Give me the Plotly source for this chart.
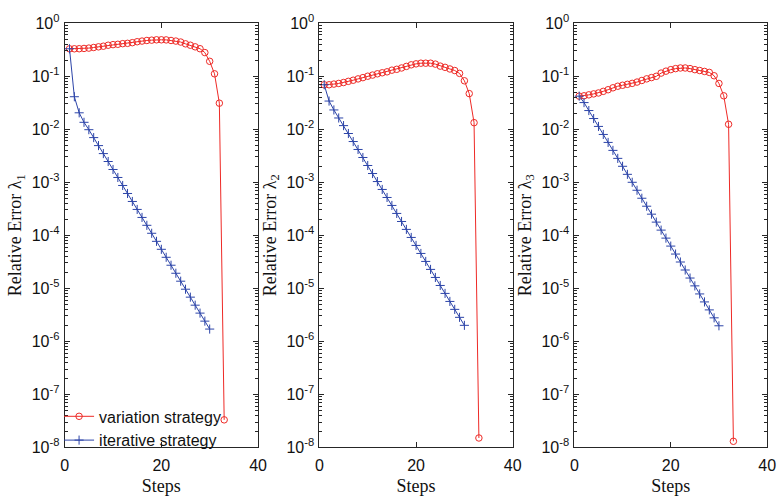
import plotly.graph_objects as go

# Iteration steps
steps_var = list(range(1, 34))
steps_it = list(range(1, 31))

# Relative error of lambda_1, lambda_2, lambda_3 for the variation strategy
var_l1 = [0.329, 0.329, 0.330, 0.334, 0.339, 0.348, 0.358, 0.368, 0.384, 0.394,
          0.400, 0.411, 0.417, 0.429, 0.447, 0.460, 0.472, 0.479, 0.486, 0.486,
          0.484, 0.472, 0.460, 0.441, 0.408, 0.384, 0.358, 0.330, 0.279, 0.191,
          0.111, 0.031, 3.3e-8]
var_l2 = [0.069, 0.069, 0.071, 0.073, 0.076, 0.080, 0.084, 0.089, 0.094, 0.100,
          0.105, 0.111, 0.116, 0.121, 0.130, 0.135, 0.143, 0.153, 0.164, 0.171,
          0.176, 0.176, 0.176, 0.169, 0.155, 0.147, 0.137, 0.128, 0.113, 0.082,
          0.047, 0.0133, 1.5e-8]
var_l3 = [0.0421, 0.0427, 0.0445, 0.0464, 0.0483, 0.0518, 0.0556, 0.0604, 0.0647, 0.0675,
          0.0703, 0.0733, 0.0775, 0.0831, 0.0891, 0.0942, 0.0996, 0.1145, 0.1245, 0.133,
          0.139, 0.143, 0.143, 0.139, 0.133, 0.128, 0.123, 0.118, 0.102, 0.073,
          0.0427, 0.0124, 1.3e-8]

# Relative error for the iterative strategy
it_l1 = [0.329, 0.041, 0.0204, 0.0135, 0.0098, 6.95e-3, 4.91e-3, 3.47e-3, 2.46e-3, 1.74e-3,
         1.23e-3, 8.69e-4, 6.14e-4, 4.34e-4, 3.07e-4, 2.17e-4, 1.54e-4, 1.09e-4, 7.68e-5, 5.43e-5,
         3.84e-5, 2.72e-5, 1.92e-5, 1.36e-5, 9.6e-6, 6.8e-6, 4.8e-6, 3.4e-6, 2.4e-6, 1.7e-6]
it_l2 = [0.069, 0.034, 0.0231, 0.0163, 0.0117, 8.30e-3, 5.86e-3, 4.15e-3, 2.93e-3, 2.07e-3,
         1.46e-3, 1.03e-3, 7.31e-4, 5.16e-4, 3.65e-4, 2.58e-4, 1.82e-4, 1.29e-4, 9.1e-5, 6.43e-5,
         4.54e-5, 3.21e-5, 2.27e-5, 1.60e-5, 1.13e-5, 8.0e-6, 5.65e-6, 4.0e-6, 2.83e-6, 2.0e-6]
it_l3 = [0.042, 0.0318, 0.0225, 0.0159, 0.0113, 7.97e-3, 5.64e-3, 3.99e-3, 2.82e-3, 2.00e-3,
         1.41e-3, 9.98e-4, 7.06e-4, 4.99e-4, 3.53e-4, 2.50e-4, 1.77e-4, 1.25e-4, 8.83e-5, 6.25e-5,
         4.42e-5, 3.13e-5, 2.21e-5, 1.56e-5, 1.11e-5, 7.82e-6, 5.53e-6, 3.91e-6, 2.77e-6, 1.96e-6]

x_ticks = [0, 20, 40]
y_tickvals = [1e0, 1e-1, 1e-2, 1e-3, 1e-4, 1e-5, 1e-6, 1e-7, 1e-8]
y_ticktext = ["10<sup>0</sup>", "10<sup>-1</sup>", "10<sup>-2</sup>", "10<sup>-3</sup>",
              "10<sup>-4</sup>", "10<sup>-5</sup>", "10<sup>-6</sup>", "10<sup>-7</sup>",
              "10<sup>-8</sup>"]
y_titles = ["Relative Error λ<sub>1</sub>", "Relative Error λ<sub>2</sub>",
            "Relative Error λ<sub>3</sub>"]

RED = "#ee2a26"
BLUE = "#2c44a8"
AXIS = "#262626"
TEXT = "#111111"
SANS = "Liberation Sans, Arial, sans-serif"
SERIF = "Liberation Serif, Times New Roman, serif"

domains = [(61.7 / 784, 258.3 / 784), (320.7 / 784, 517.3 / 784), (580.0 / 784, 776.0 / 784)]
ydom = (1 - 454.5 / 500, 1 - 12.7 / 500)

fig = go.Figure()
panels = [(var_l1, it_l1), (var_l2, it_l2), (var_l3, it_l3)]
for i, (v, it) in enumerate(panels):
    xa = "x" if i == 0 else f"x{i + 1}"
    ya = "y" if i == 0 else f"y{i + 1}"
    fig.add_trace(go.Scatter(
        x=steps_var, y=v, xaxis=xa, yaxis=ya, mode="lines+markers",
        name="variation strategy", showlegend=(i == 0),
        line=dict(color=RED, width=1),
        marker=dict(symbol="circle-open", size=6.5, color=RED, line=dict(width=1, color=RED)),
    ))
    fig.add_trace(go.Scatter(
        x=steps_it, y=it, xaxis=xa, yaxis=ya, mode="lines+markers",
        name="iterative strategy", showlegend=(i == 0),
        line=dict(color=BLUE, width=1),
        marker=dict(symbol="cross-thin-open", size=6.5, color=BLUE, line=dict(width=1, color=BLUE)),
    ))

    xkey = "xaxis" if i == 0 else f"xaxis{i + 1}"
    ykey = "yaxis" if i == 0 else f"yaxis{i + 1}"
    fig.update_layout({
        xkey: dict(
            domain=list(domains[i]), anchor=ya, range=[0, 40],
            tickvals=x_ticks, ticks="inside", ticklen=5, tickcolor=AXIS,
            showline=True, linecolor=AXIS, linewidth=1, mirror="allticks",
            showgrid=False, zeroline=False, ticklabelstandoff=3,
            tickfont=dict(family=SANS, size=16, color=TEXT),
            title=dict(text="Steps", font=dict(family=SERIF, size=18, color=TEXT), standoff=6),
        ),
        ykey: dict(
            domain=list(ydom), anchor=xa, type="log", range=[-8, 0],
            tickvals=y_tickvals, ticktext=y_ticktext,
            ticks="inside", ticklen=5, tickcolor=AXIS,
            minor=dict(ticks="inside", ticklen=3, tickcolor=AXIS, dtick="D1", showgrid=False),
            showline=True, linecolor=AXIS, linewidth=1, mirror="allticks",
            showgrid=False, zeroline=False, ticklabelstandoff=1,
            tickfont=dict(family=SANS, size=16, color=TEXT),
            title=dict(text=y_titles[i], font=dict(family=SERIF, size=18, color=TEXT), standoff=5),
        ),
    })

fig.update_layout(
    width=784, height=500,
    margin=dict(l=0, r=0, t=0, b=0),
    paper_bgcolor="white", plot_bgcolor="white",
    legend=dict(
        x=56 / 784, y=1 - 465 / 500, xanchor="left", yanchor="bottom",
        bgcolor="rgba(0,0,0,0)", borderwidth=0,
        font=dict(family=SANS, size=16, color=TEXT),
        itemwidth=30, tracegroupgap=0,
    ),
)

fig.write_html("out.html")
